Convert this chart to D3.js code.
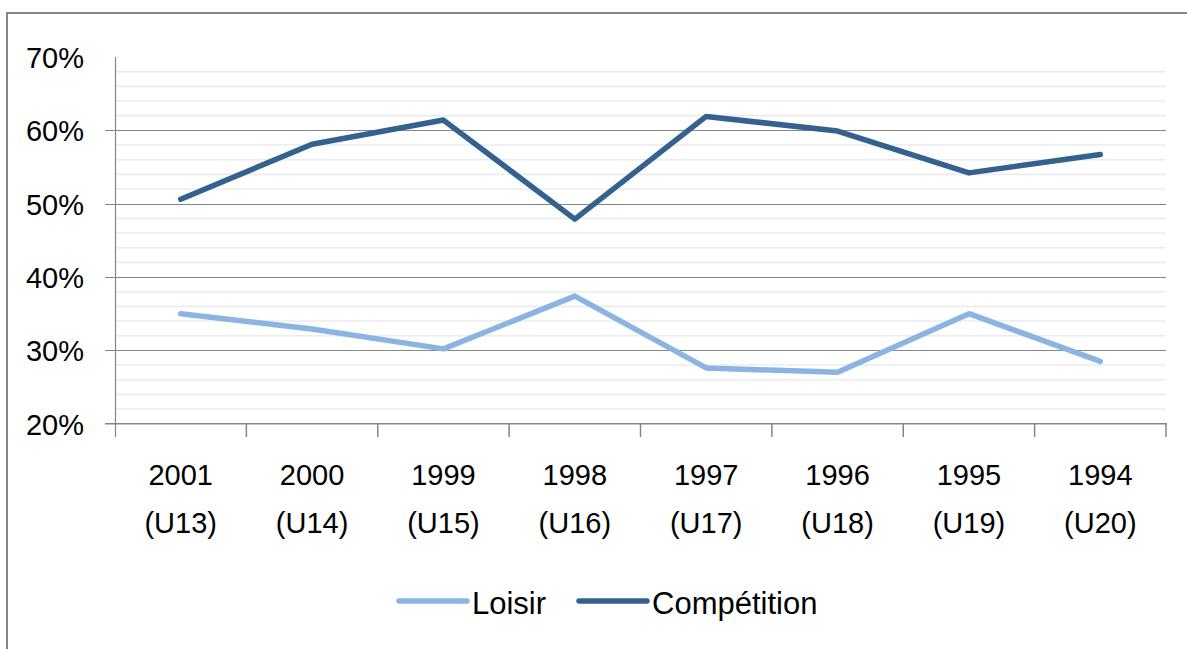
<!DOCTYPE html>
<html>
<head>
<meta charset="utf-8">
<script src="https://cdn.jsdelivr.net/npm/d3@7"></script>
<style>
  body { margin: 0; background: #fff; }
  text { font-family: "Liberation Sans", Arial, sans-serif; fill: #000; }
</style>
</head>
<body>
<svg width="1187" height="649"></svg>
<script>
// data
var years = ["2001", "2000", "1999", "1998", "1997", "1996", "1995", "1994"];
var ages = ["(U13)", "(U14)", "(U15)", "(U16)", "(U17)", "(U18)", "(U19)", "(U20)"];
var loisir = [0.350, 0.329, 0.302, 0.374, 0.276, 0.270, 0.350, 0.285];
var competition = [0.506, 0.581, 0.614, 0.479, 0.619, 0.599, 0.542, 0.567];
var majorTicks = [0.2, 0.3, 0.4, 0.5, 0.6, 0.7];

var series = [
  {name: "Loisir", values: loisir, color: "#8cb4e2"},
  {name: "Compétition", values: competition, color: "#35618f"}
];

var svg = d3.select("svg");

// outer frame
svg.append("path")
  .attr("d", "M7,649 V13 H1187")
  .attr("fill", "none")
  .attr("stroke", "#868686")
  .attr("stroke-width", 2);

var x = d3.scaleBand().domain(years).range([115, 1166]);
var y = d3.scaleLinear().domain([0.2, 0.7]).range([423.7, 57]);

// minor gridlines every 2%
var minor = d3.range(0.22, 0.7, 0.02).filter(function(v) {
  return Math.abs(v * 10 - Math.round(v * 10)) > 0.01;
});
svg.append("g").selectAll("line")
  .data(minor)
  .enter().append("line")
  .attr("x1", 115).attr("x2", 1166)
  .attr("y1", function(d) { return y(d); })
  .attr("y2", function(d) { return y(d); })
  .attr("stroke", "#ececec")
  .attr("stroke-width", 1.6);

// major gridlines (not at the top)
svg.append("g").selectAll("line")
  .data(majorTicks.slice(1, -1))
  .enter().append("line")
  .attr("x1", 105).attr("x2", 1166)
  .attr("y1", function(d) { return Math.round(y(d)) + 0.5; })
  .attr("y2", function(d) { return Math.round(y(d)) + 0.5; })
  .attr("stroke", "#868686")
  .attr("stroke-width", 1);

// y axis labels
var yAxis = d3.axisLeft(y)
  .tickValues(majorTicks)
  .tickFormat(d3.format(".0%"))
  .tickSize(0)
  .tickPadding(31);
var gy = svg.append("g").attr("transform", "translate(115,0)").call(yAxis);
gy.select(".domain").remove();
gy.selectAll("text")
  .attr("dy", "0.36em")
  .style("font-family", "'Liberation Sans', Arial, sans-serif")
  .style("font-size", "29px")
  .attr("fill", "#000");

// y axis line
svg.append("line")
  .attr("x1", 115.5).attr("x2", 115.5)
  .attr("y1", 57).attr("y2", 437)
  .attr("stroke", "#868686").attr("stroke-width", 1.2);

// x axis line
svg.append("line")
  .attr("x1", 105).attr("x2", 1167)
  .attr("y1", y(0.2)).attr("y2", y(0.2))
  .attr("stroke", "#868686").attr("stroke-width", 1.6);

// category boundary ticks
var bounds = years.map(function(d) { return x(d); }).concat([x.range()[1]]);
svg.append("g").selectAll("line")
  .data(bounds.slice(1))
  .enter().append("line")
  .attr("x1", function(d) { return d; })
  .attr("x2", function(d) { return d; })
  .attr("y1", y(0.2)).attr("y2", 437)
  .attr("stroke", "#868686").attr("stroke-width", 1.5);

// category labels
var lab = svg.append("g").selectAll("text")
  .data(years)
  .enter().append("text")
  .attr("text-anchor", "middle")
  .style("font-size", "29px");
lab.append("tspan")
  .attr("x", function(d) { return x(d) + x.bandwidth() / 2; })
  .attr("y", 485)
  .text(function(d) { return d; });
lab.append("tspan")
  .attr("x", function(d) { return x(d) + x.bandwidth() / 2; })
  .attr("y", 533)
  .text(function(d, i) { return ages[i]; });

// lines
var line = d3.line()
  .x(function(d, i) { return x(years[i]) + x.bandwidth() / 2; })
  .y(function(d) { return y(d); });

svg.append("g").selectAll("path")
  .data(series)
  .enter().append("path")
  .attr("d", function(d) { return line(d.values); })
  .attr("fill", "none")
  .attr("stroke", function(d) { return d.color; })
  .attr("stroke-width", 5.5)
  .attr("stroke-linejoin", "round")
  .attr("stroke-linecap", "round");

// legend
var legendX = [399, 579];
var leg = svg.append("g").selectAll("g")
  .data(series)
  .enter().append("g")
  .attr("transform", function(d, i) { return "translate(" + legendX[i] + ",601)"; });
leg.append("line")
  .attr("x1", 0).attr("x2", 68)
  .attr("stroke", function(d) { return d.color; })
  .attr("stroke-width", 5.5)
  .attr("stroke-linecap", "round");
leg.append("text")
  .attr("x", 73)
  .attr("y", 13)
  .style("font-size", "31px")
  .text(function(d) { return d.name; });
</script>
</body>
</html>
